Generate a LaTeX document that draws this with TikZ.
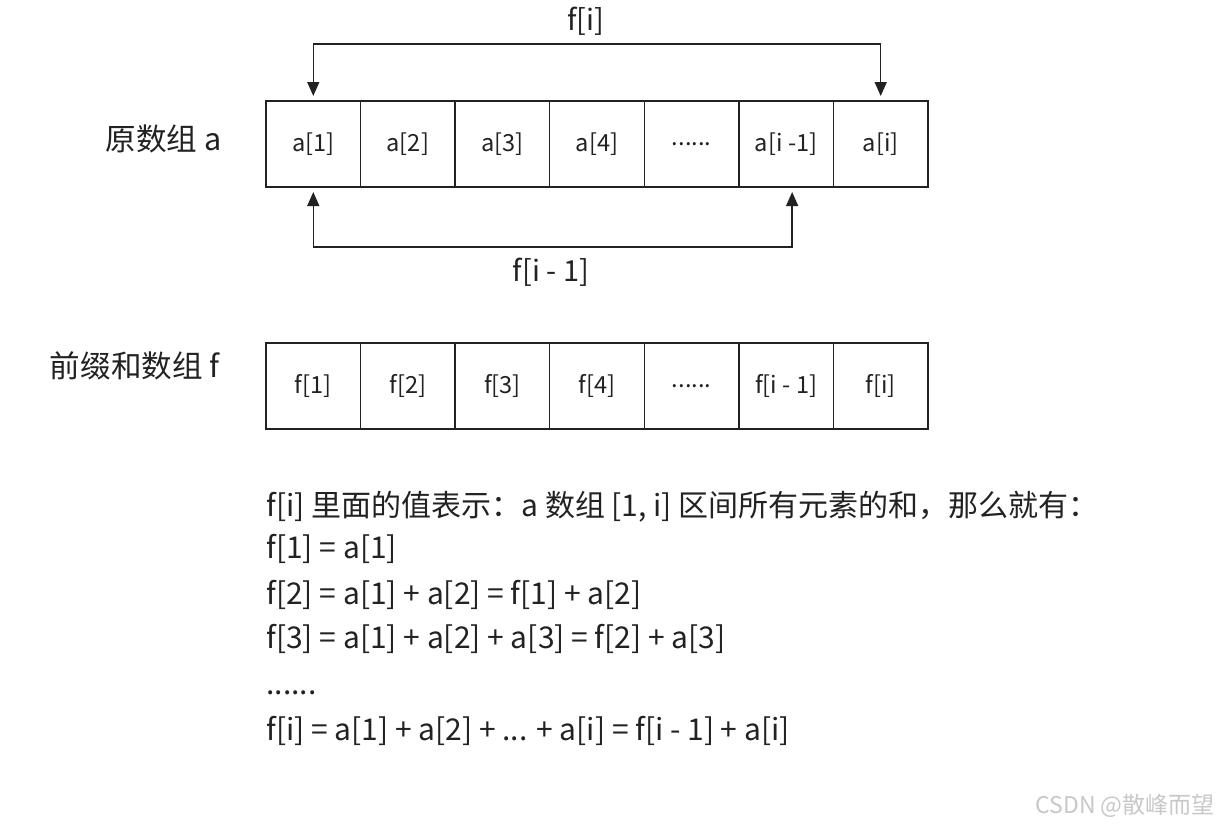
\documentclass[tikz,border=0pt]{standalone}
\usepackage{fontspec}
\setmainfont{Noto Sans CJK SC}
\usepackage{xcolor}
\usetikzlibrary{arrows.meta,positioning,calc}
\definecolor{ink}{HTML}{222222}
\definecolor{wmark}{HTML}{C8C8C8}
\newcommand{\gapdots}{......}
\tikzset{
    every picture/.style={line join=miter},
    arraycell/.style={draw=ink,line width=0.75pt,minimum width=47.3pt,
      minimum height=43pt,inner sep=0pt,outer sep=0pt,
      font=\fontsize{11.8}{14}\selectfont,text=ink},
    rowlabel/.style={anchor=east,inner sep=0pt,font=\fontsize{15.3}{18}\selectfont,text=ink},
    spanarrow/.style={{Triangle[length=7pt,width=6pt]}-{Triangle[length=7pt,width=6pt]},
      draw=ink,line width=0.75pt,shorten <=2.5pt,shorten >=2.5pt},
    spanlabel/.style={font=\fontsize{14.5}{17}\selectfont,text=ink},
    textline/.style={anchor=base west,inner sep=0pt,font=\fontsize{15}{18}\selectfont,text=ink}
}
\begin{document}
\begin{tikzpicture}[x=0.5pt,y=-0.5pt]
    \useasboundingbox[fill=white] (0,0) rectangle (1220,826);
    % original array a
    \foreach \k/\txt in {1/a[1],2/a[2],3/a[3],4/a[4],5/\gapdots,6/a[i -1],7/a[i]}
        \node[arraycell] (a\k) at ({266+94.57*(\k-0.5)},144) {\txt};
    \node[rowlabel] (lbla) at (222,139) {原数组 a};
    % prefix sum array f
    \foreach \k/\txt in {1/f[1],2/f[2],3/f[3],4/f[4],5/\gapdots,6/f[i - 1],7/f[i]}
        \node[arraycell] (f\k) at ({266+94.57*(\k-0.5)},386) {\txt};
    \node[rowlabel] (lblf) at (220,366) {前缀和数组 f};
    % range arrows
    \coordinate (tophook) at (586,44);
    \coordinate (bothook) at (550,247);
    \draw[spanarrow] (a1.north) |- (tophook) -| (a7.north);
    \draw[spanarrow] (a1.south) |- (bothook) -| ([xshift=3pt]a6.south);
    \node[spanlabel] (lblfi) at (586,21) {f[i]};
    \node[spanlabel] (lblfim) at (551,272) {f[i - 1]};
    % explanation
    \node[textline] (line1) at (266,516) {f[i] 里面的值表示：a 数组 [1, i] 区间所有元素的和，那么就有：};
    \node[textline] (line2) at (266,558) {f[1] = a[1]};
    \node[textline] (line3) at (266,604) {f[2] = a[1] + a[2] = f[1] + a[2]};
    \node[textline] (line4) at (266,648) {f[3] = a[1] + a[2] + a[3] = f[2] + a[3]};
    \node[textline] (line5) at (266,694) {\gapdots};
    \node[textline] (line6) at (266,740) {f[i] = a[1] + a[2] + ... + a[i] = f[i - 1] + a[i]};
    \node[anchor=east,inner sep=0pt,font=\fontsize{11.5}{13}\selectfont,text=wmark] (wm) at (1215,806) {CSDN @散峰而望};
\end{tikzpicture}
\end{document}
